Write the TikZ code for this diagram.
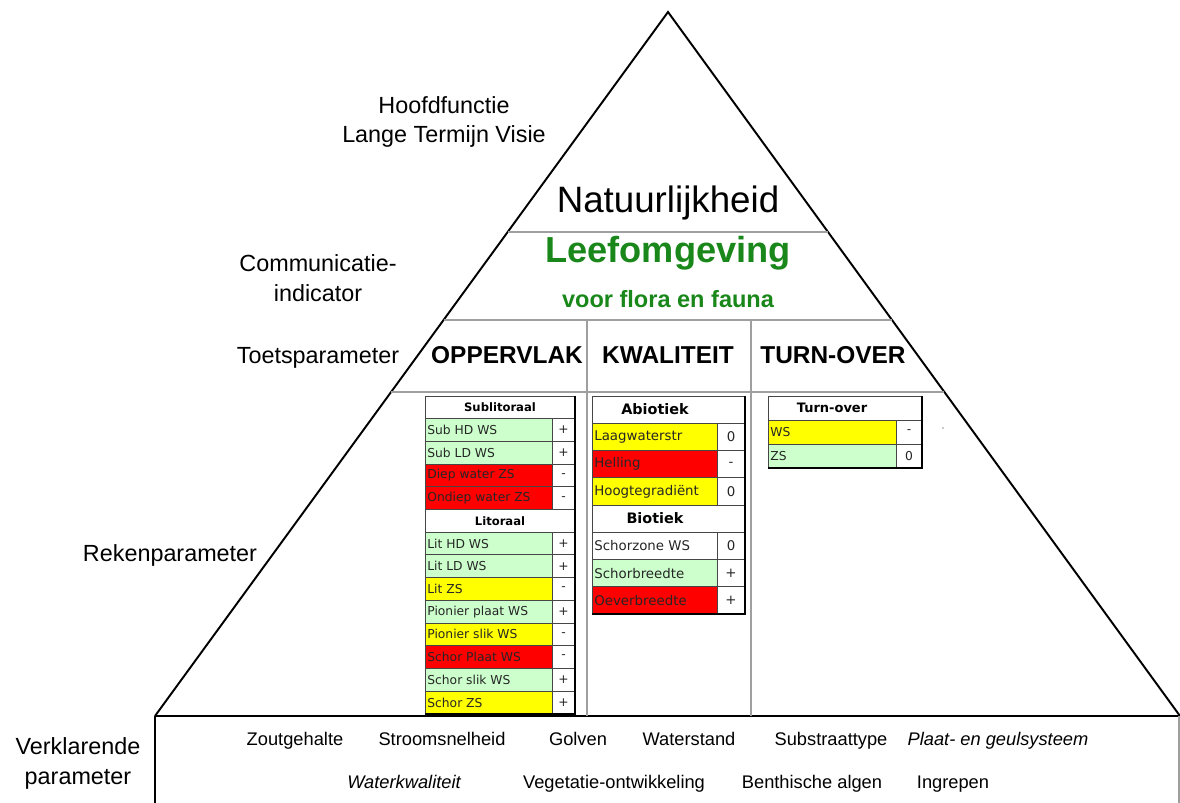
\documentclass[tikz,border=0pt]{standalone}
\usepackage{fontspec}
\setmainfont{Liberation Sans}
\newfontfamily\cellfont{DejaVu Sans}

\definecolor{leafgreen}{RGB}{25,135,25}
\definecolor{lgreen}{RGB}{204,255,204}
\definecolor{cyellow}{RGB}{255,255,0}
\definecolor{cred}{RGB}{255,0,0}
\definecolor{cellline}{RGB}{70,70,70}

\tikzset{
  frame/.style={line width=1.1pt, black},
  divider/.style={line width=0.6pt, gray!75},
  level/.style={inner sep=0pt, align=center, font=\fontsize{13.3}{16.8}\selectfont},
  colhead/.style={inner sep=0pt, anchor=base, font=\bfseries\fontsize{13.9}{16}\selectfont},
  driver/.style={inner sep=0pt, anchor=base, font=\fontsize{10.4}{12}\selectfont},
  cell/.style={draw=cellline, line width=0.5pt},
  tabedge/.style={line width=1.3pt, black},
  celltext/.style={anchor=west, inner sep=0pt, text=black!85, font=\cellfont\fontsize{#1}{#1}\selectfont},
  celltext/.default=7,
  cellsign/.style={inner sep=0pt, text=black!85, font=\cellfont\fontsize{#1}{#1}\selectfont},
  cellsign/.default=7,
  cellhead/.style={inner sep=0pt, font=\cellfont\bfseries\fontsize{#1}{#1}\selectfont},
  cellhead/.default=6.6
}

\begin{document}
\begin{tikzpicture}[x=0.02cm, y=-0.02cm]
  \useasboundingbox (0,0) rectangle (1180,803);

  % pyramid and base box
  \coordinate (top) at (668,12);
  \coordinate (bl) at (155,716);
  \coordinate (br) at (1180,716);
  \draw[frame] (bl) -- (top) -- (br);
  \draw[frame] (bl) -- (br);           % top of the base box
  \draw[frame] (bl) -- (155,803);      % left side of the base box
  \draw[divider] (1179,716) -- (1179,803);

  % layers of the pyramid
  \draw[divider] (507.7,232) -- (828,232);
  \draw[divider] (443.6,320) -- (892,320);
  \draw[divider] (391.1,392) -- (944.4,392);
  \draw[divider] (587,320) -- (587,716);
  \draw[divider] (751,320) -- (751,716);

  % level names on the left
  \node[level] (hoofd) at (444,122) {Hoofdfunctie\\Lange Termijn Visie};
  \node[level] (comm) at (318,278) {Communicatie-\\indicator};
  \node[level, anchor=base] (toets) at (318,363.5) {Toetsparameter};
  \node[level, anchor=base] (reken) at (170,561.5) {Rekenparameter};
  \node[level] (verkl) at (78,763.5) {Verklarende\\parameter};

  % contents of the top layers
  \node[inner sep=0pt, anchor=base, font=\fontsize{20.9}{24}\selectfont] (natuur) at (668,213) {Natuurlijkheid};
  \node[inner sep=0pt, anchor=base, text=leafgreen, font=\bfseries\fontsize{20.6}{24}\selectfont] (leef) at (668,263) {Leefomgeving};
  \node[inner sep=0pt, anchor=base, text=leafgreen, font=\bfseries\fontsize{13.4}{16}\selectfont] (flora) at (668,308) {voor flora en fauna};

  \node[colhead] (opp) at (507,363.8) {OPPERVLAK};
  \node[colhead] (kwal) at (668,363.8) {KWALITEIT};
  \node[colhead] (turn) at (833,363.8) {TURN-OVER};

  % Oppervlak table
  \draw[cell, fill=white] (425,396) rectangle (575,418.7);
  \node[cellhead] (sublit) at (500,407.3) {Sublitoraal};
  \draw[cell, fill=white] (425,509.5) rectangle (575,532.2);
  \node[cellhead] (lit) at (500,520.8) {Litoraal};
  \foreach \r/\lab/\col/\sgn in {1/Sub HD WS/lgreen/+, 2/Sub LD WS/lgreen/+,
      3/Diep water ZS/cred/-, 4/Ondiep water ZS/cred/-,
      6/Lit HD WS/lgreen/+, 7/Lit LD WS/lgreen/+, 8/Lit ZS/cyellow/-,
      9/Pionier plaat  WS/lgreen/+, 10/Pionier slik WS/cyellow/-,
      11/Schor Plaat WS/cred/-, 12/Schor slik WS/lgreen/+, 13/Schor ZS/cyellow/+}{
    \draw[cell, fill=\col] (425,{396+\r*22.7}) rectangle (552,{396+(\r+1)*22.7});
    \draw[cell, fill=white] (552,{396+\r*22.7}) rectangle (575,{396+(\r+1)*22.7});
    \node[celltext] (opp\r) at (427,{396+(\r+0.5)*22.7}) {\lab};
    \node[cellsign] (oppsign\r) at (563.5,{396+(\r+0.5)*22.7}) {\sgn};
  }
  \draw[tabedge] (575,396) -- (575,713.8) -- (425,713.8);

  % Kwaliteit table
  \draw[cell, fill=white] (592,396) rectangle (745,423.25);
  \node[cellhead=8.2] (abio) at (655,409.6) {Abiotiek};
  \draw[cell, fill=white] (592,505) rectangle (745,532.25);
  \node[cellhead=8.2] (bio) at (655,518.6) {Biotiek};
  \foreach \r/\lab/\col/\sgn in {1/Laagwaterstr/cyellow/0, 2/Helling/cred/-,
      3/Hoogtegradiënt/cyellow/0, 5/Schorzone WS/white/0,
      6/Schorbreedte/lgreen/+, 7/Oeverbreedte/cred/+}{
    \draw[cell, fill=\col] (592,{396+\r*27.25}) rectangle (717,{396+(\r+1)*27.25});
    \draw[cell, fill=white] (717,{396+\r*27.25}) rectangle (745,{396+(\r+1)*27.25});
    \node[celltext=7.6] (kwal\r) at (594,{396+(\r+0.5)*27.25}) {\lab};
    \node[cellsign=7.6] (kwalsign\r) at (731,{396+(\r+0.5)*27.25}) {\sgn};
  }
  \draw[tabedge] (745,396) -- (745,614) -- (592,614);

  % Turn-over table
  \draw[cell, fill=white] (768,396) rectangle (922,420);
  \node[cellhead=7.4] (tohead) at (832,408) {Turn-over};
  \foreach \r/\lab/\col/\sgn in {1/WS/cyellow/-, 2/ZS/lgreen/0}{
    \draw[cell, fill=\col] (768,{396+\r*24}) rectangle (896,{396+(\r+1)*24});
    \draw[cell, fill=white] (896,{396+\r*24}) rectangle (922,{396+(\r+1)*24});
    \node[celltext] (to\r) at (770,{396+(\r+0.5)*24}) {\lab};
    \node[cellsign] (tosign\r) at (909,{396+(\r+0.5)*24}) {\sgn};
  }
  \draw[tabedge] (922,396) -- (922,468) -- (768,468);

  \fill[gray!55] (943,428) circle (0.7pt);

  % explanatory parameters in the base box
  \node[driver] (zout) at (295,745.5) {Zoutgehalte};
  \node[driver] (stroom) at (442,745.5) {Stroomsnelheid};
  \node[driver] (golven) at (578,745.5) {Golven};
  \node[driver] (wstand) at (689,745.5) {Waterstand};
  \node[driver] (substr) at (831,745.5) {Substraattype};
  \node[driver, font=\itshape\fontsize{10.4}{12}\selectfont] (plaat) at (998,745.5) {Plaat- en geulsysteem};
  \node[driver, font=\itshape\fontsize{10.4}{12}\selectfont] (wkwal) at (404,788.5) {Waterkwaliteit};
  \node[driver] (veget) at (614,788.5) {Vegetatie-ontwikkeling};
  \node[driver] (benth) at (812,788.5) {Benthische algen};
  \node[driver] (ingr) at (953,788.5) {Ingrepen};
\end{tikzpicture}
\end{document}
